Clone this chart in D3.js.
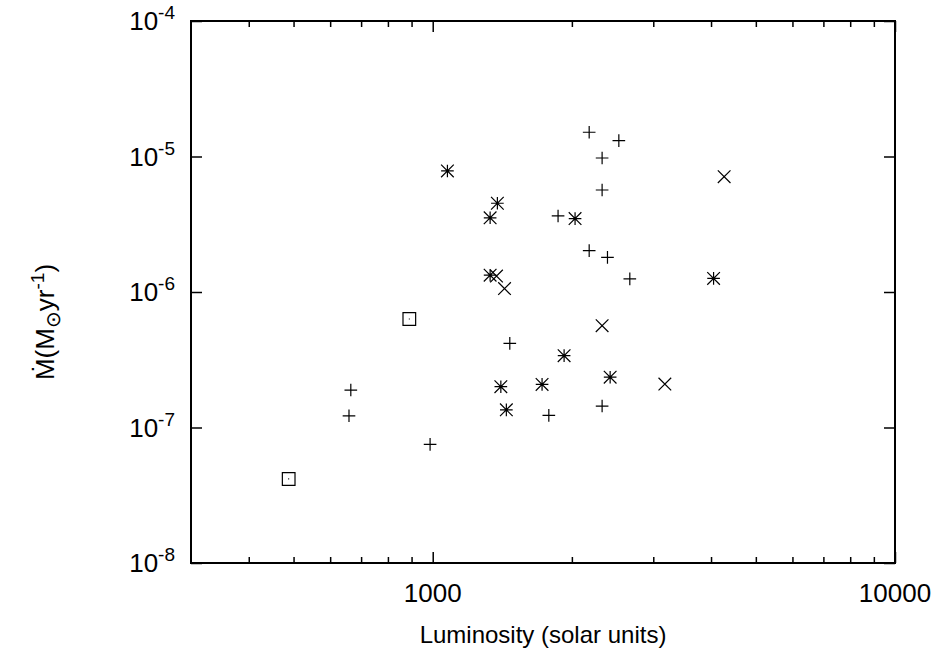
<!DOCTYPE html>
<html>
<head>
<meta charset="utf-8">
<script src="https://cdn.jsdelivr.net/npm/d3@7"></script>
<style>
  body { margin: 0; background: #fff; }
  text { font-family: "Liberation Sans", Arial, sans-serif; fill: #000; }
</style>
</head>
<body>
<div id="chart"></div>
<script>
// luminosity (solar units) and mass loss rate (Msun/yr), one array pair per symbol
var plusL = [2180, 2527, 2325, 2325, 1867, 2180, 2388, 2669, 1468, 665, 659, 1783, 2325, 987];
var plusM = [1.51e-5, 1.31e-5, 9.75e-6, 5.66e-6, 3.64e-6, 2.02e-6, 1.80e-6, 1.25e-6, 4.18e-7, 1.89e-7, 1.22e-7, 1.23e-7, 1.44e-7, 7.5e-8];

var starL = [1076, 1380, 1331, 2032, 1331, 4051, 1924, 1404, 1724, 2420, 1443];
var starM = [7.82e-6, 4.52e-6, 3.53e-6, 3.48e-6, 1.33e-6, 1.26e-6, 3.39e-7, 2.0e-7, 2.08e-7, 2.35e-7, 1.35e-7];

var crossL = [1374, 1430, 4270, 2325, 3178];
var crossM = [1.31e-6, 1.06e-6, 7.10e-6, 5.64e-7, 2.09e-7];

var squareL = [890, 488];
var squareM = [6.32e-7, 4.17e-8];

var xMajor = [1000, 10000];
var xMinor = [400, 500, 600, 700, 800, 900, 2000, 3000, 4000, 5000, 6000, 7000, 8000, 9000];
var yMajor = [1e-4, 1e-5, 1e-6, 1e-7, 1e-8];
var yExp = ["-4", "-5", "-6", "-7", "-8"];

var margin = { top: 21, right: 48, bottom: 93, left: 191 },
  width = 943,
  height = 656,
  innerW = width - margin.left - margin.right,
  innerH = height - margin.top - margin.bottom,
  fontSize = 26;

var x = d3.scaleLog().domain([300, 10000]).range([0, innerW]);
var y = d3.scaleLog().domain([1e-8, 1e-4]).range([innerH, 0]);

// gnuplot style point types, size = edge^2
var half = function(size) { return Math.sqrt(size) / 2; };
var ptPlus = { draw: function(c, s) { var r = half(s);
  c.moveTo(-r, 0); c.lineTo(r, 0); c.moveTo(0, -r); c.lineTo(0, r); } };
var ptTimes = { draw: function(c, s) { var r = half(s);
  c.moveTo(-r, -r); c.lineTo(r, r); c.moveTo(-r, r); c.lineTo(r, -r); } };
var ptStar = { draw: function(c, s) { ptPlus.draw(c, s); ptTimes.draw(c, s); } };
var ptBox = { draw: function(c, s) { var r = half(s);
  c.moveTo(-r, -r); c.lineTo(r, -r); c.lineTo(r, r); c.lineTo(-r, r); c.closePath();
  c.moveTo(-0.5, 0); c.lineTo(0.5, 0); } };

var series = [
  { type: ptPlus, L: plusL, M: plusM },
  { type: ptStar, L: starL, M: starM },
  { type: ptTimes, L: crossL, M: crossM },
  { type: ptBox, L: squareL, M: squareM }
];

var svg = d3.select("#chart").append("svg")
  .attr("width", width)
  .attr("height", height);

var g = svg.append("g")
  .attr("transform", "translate(" + margin.left + "," + margin.top + ")");

// ticks, all pointing inward and mirrored on the opposite side
function tickAxis(axis, scale, values, size, transform) {
  var a = g.append("g")
    .attr("transform", transform || null)
    .call(axis(scale).tickValues(values).tickSize(-size).tickFormat(""));
  a.select(".domain").remove();
  a.selectAll("line").attr("stroke", "#000").attr("stroke-width", 1.5);
  return a;
}
tickAxis(d3.axisBottom, x, xMajor, 11, "translate(0," + innerH + ")");
tickAxis(d3.axisBottom, x, xMinor, 6, "translate(0," + innerH + ")");
tickAxis(d3.axisTop, x, xMajor, 11);
tickAxis(d3.axisTop, x, xMinor, 6);
tickAxis(d3.axisLeft, y, yMajor, 11);
tickAxis(d3.axisRight, y, yMajor, 11, "translate(" + innerW + ",0)");

g.append("rect")
  .attr("width", innerW)
  .attr("height", innerH)
  .attr("fill", "none")
  .attr("stroke", "#000")
  .attr("stroke-width", 2);

// tick labels
g.selectAll(".xlab").data(xMajor).enter()
  .append("text")
  .attr("class", "xlab")
  .attr("x", function(d) { return x(d); })
  .attr("y", innerH + 39)
  .attr("text-anchor", "middle")
  .style("font-size", fontSize + "px")
  .text(function(d) { return d; });

var ylab = g.selectAll(".ylab").data(yMajor).enter()
  .append("text")
  .attr("class", "ylab")
  .attr("x", -16)
  .attr("y", function(d) { return y(d) + 9; })
  .attr("text-anchor", "end")
  .style("font-size", fontSize + "px");
ylab.append("tspan").text("10");
ylab.append("tspan")
  .attr("dy", -11)
  .style("font-size", "19px")
  .text(function(d, i) { return yExp[i]; });

// axis titles
g.append("text")
  .attr("x", innerW / 2)
  .attr("y", innerH + 80)
  .attr("text-anchor", "middle")
  .style("font-size", "24px")
  .text("Luminosity (solar units)");

var yt = g.append("text")
  .attr("transform", "translate(" + (-137) + "," + (innerH / 2 + 30) + ") rotate(-90)")
  .attr("text-anchor", "middle")
  .style("font-size", "26px");
yt.append("tspan").text("\u1E40(M");
yt.append("tspan").attr("dy", 6).style("font-size", "20px").text("\u2299");
yt.append("tspan").attr("dy", -6).text("yr");
yt.append("tspan").attr("dy", -10).style("font-size", "19px").text("-1");
yt.append("tspan").attr("dy", 10).text(")");

// points
var sym = d3.symbol().size(160);
series.forEach(function(s) {
  g.append("g").selectAll("path")
    .data(s.L.map(function(l, i) { return { L: l, M: s.M[i] }; }))
    .enter().append("path")
    .attr("transform", function(d) { return "translate(" + x(d.L) + "," + y(d.M) + ")"; })
    .attr("d", sym.type(s.type)())
    .attr("fill", "none")
    .attr("stroke", "#000")
    .attr("stroke-width", 1.2);
});
</script>
</body>
</html>
